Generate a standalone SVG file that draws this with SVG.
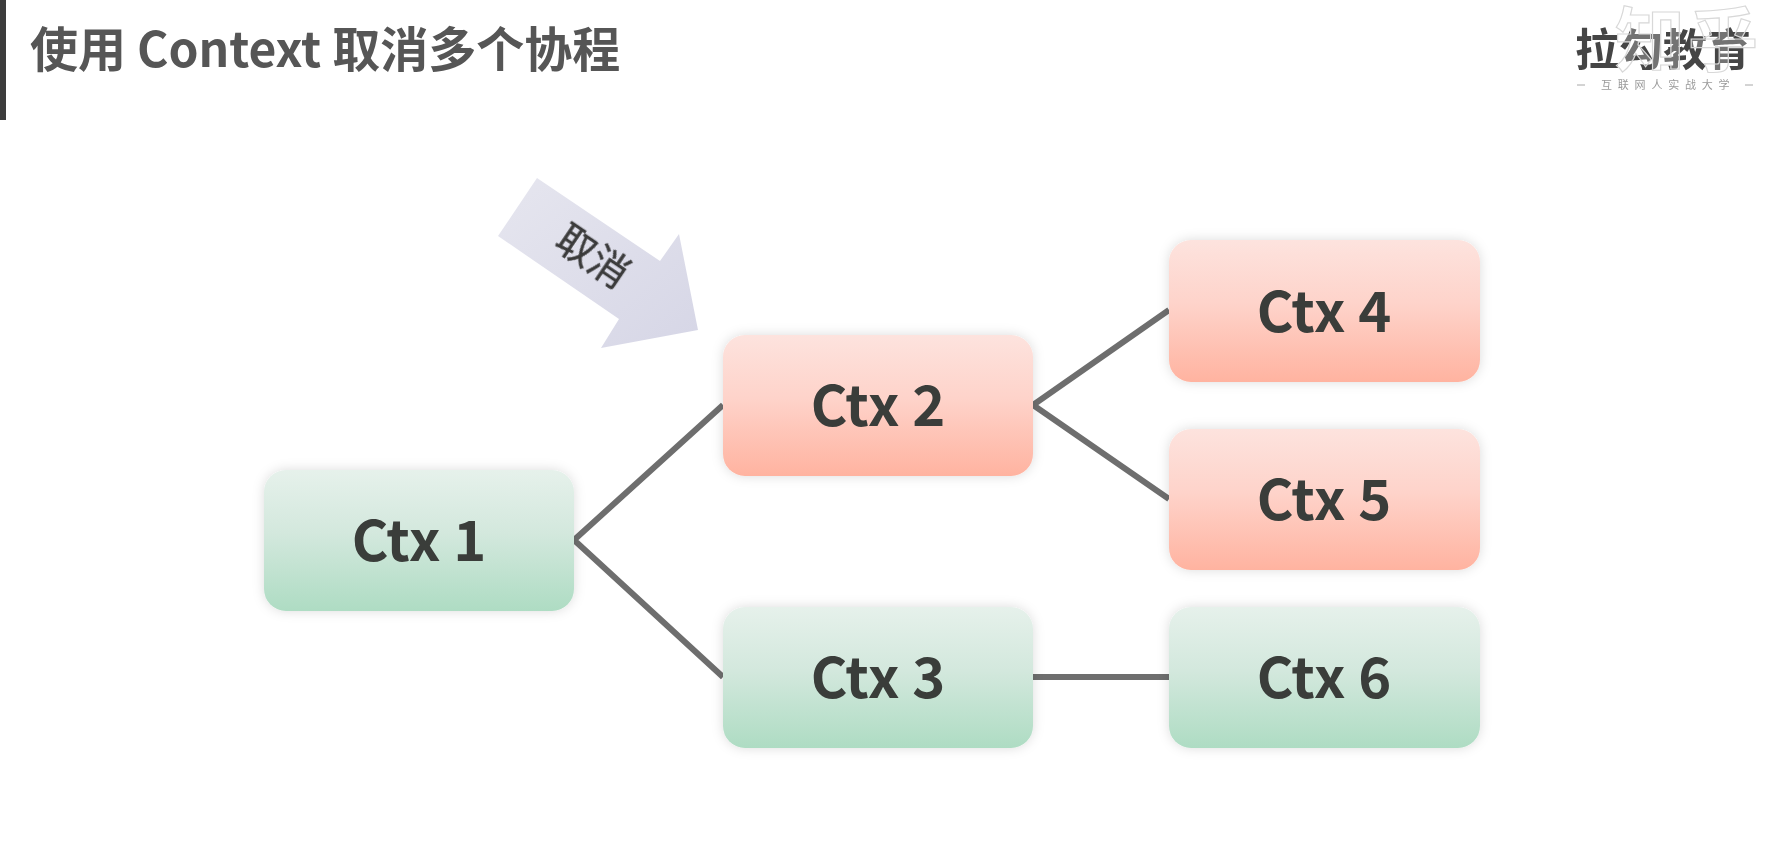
<svg xmlns="http://www.w3.org/2000/svg" width="1772" height="853" viewBox="0 0 1772 853">
<style>
.cjk{font-family:"Noto Sans CJK SC","Noto Sans",sans-serif}
.box{filter:url(#sh)}
.lbl{font-family:"Noto Sans CJK SC","Noto Sans",sans-serif;font-size:56px;font-weight:700;fill:#3a3d3a;text-anchor:middle}
.ln{stroke:#6e6e6e;stroke-width:6;fill:none;stroke-linecap:butt}
.sub{font-family:"Noto Sans CJK SC",sans-serif;font-size:11px;fill:#9a9a9a}
</style>
<defs>
<linearGradient id="g" x1="0" y1="0" x2="0" y2="1"><stop offset="0" stop-color="#e6f1eb"/><stop offset=".45" stop-color="#d3e8dd"/><stop offset="1" stop-color="#aedcc3"/></linearGradient>
<linearGradient id="r" x1="0" y1="0" x2="0" y2="1"><stop offset="0" stop-color="#fde3de"/><stop offset=".45" stop-color="#fed3ca"/><stop offset="1" stop-color="#ffb3a0"/></linearGradient>
<linearGradient id="a" x1="0" y1="0" x2="1" y2="1"><stop offset="0" stop-color="#e6e6ef"/><stop offset="1" stop-color="#d6d6e6"/></linearGradient>
<filter id="sh" x="-10%" y="-20%" width="120%" height="140%"><feDropShadow dx="0" dy="0" stdDeviation="6" flood-color="#000" flood-opacity=".14"/></filter>
<filter id="soft"><feGaussianBlur stdDeviation=".6"/></filter>
</defs>
<rect width="1772" height="853" fill="#fff"/>
<rect x="0" y="0" width="6" height="120" fill="#3c3c3c"/>
<text class="cjk" x="30" y="67" font-size="48" font-weight="700" fill="#565656" filter="url(#soft)">使用 Context 取消多个协程</text>
<g id="logo">
<text class="cjk" x="1575" y="66" font-size="44" font-weight="700" fill="#444" filter="url(#soft)">拉勾教育</text>
<text class="sub" x="1601" y="89" letter-spacing="5.8" filter="url(#soft)">互联网人实战大学</text>
<path d="M1577 85h8M1745 85h8" stroke="#a8a8a8" stroke-width="1"/>
<text class="cjk" x="1615" y="66" font-size="70" font-weight="700" textLength="143" fill="#fff" fill-opacity=".25" stroke="#d8d8d8" stroke-width="1.2">知乎</text>
</g>
<g id="connectors">
<path class="ln" d="M723 405L574 540L723 677"/>
<path class="ln" d="M1169 310L1033 405L1169 499"/>
<path class="ln" stroke-width="5" d="M1033 677H1169"/>
</g>
<g id="cancel-arrow">
<polygon points="537,178 660,261 679,234 698,330 601,348 619,319 498,236" fill="url(#a)"/>
<text class="cjk" transform="translate(593 256) rotate(34)" y="14" text-anchor="middle" font-size="39" fill="#3a3a3a" stroke="#3a3a3a" stroke-width=".5" filter="url(#soft)">取消</text>
</g>
<g id="ctx1"><rect class="box" x="264" y="470" width="310" height="141" rx="22" fill="url(#g)"/><text class="lbl" x="419" y="561">Ctx 1</text></g>
<g id="ctx2"><rect class="box" x="723" y="335" width="310" height="141" rx="22" fill="url(#r)"/><text class="lbl" x="878" y="426">Ctx 2</text></g>
<g id="ctx3"><rect class="box" x="723" y="607" width="310" height="141" rx="22" fill="url(#g)"/><text class="lbl" x="878" y="698">Ctx 3</text></g>
<g id="ctx4"><rect class="box" x="1169" y="240" width="311" height="142" rx="22" fill="url(#r)"/><text class="lbl" x="1324" y="332">Ctx 4</text></g>
<g id="ctx5"><rect class="box" x="1169" y="429" width="311" height="141" rx="22" fill="url(#r)"/><text class="lbl" x="1324" y="520">Ctx 5</text></g>
<g id="ctx6"><rect class="box" x="1169" y="607" width="311" height="141" rx="22" fill="url(#g)"/><text class="lbl" x="1324" y="698">Ctx 6</text></g>
</svg>
